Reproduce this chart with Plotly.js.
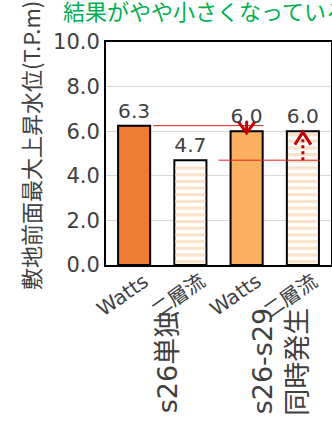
<!DOCTYPE html>
<html>
<head>
<meta charset="utf-8">
<script src="https://cdn.plot.ly/plotly-3.0.1.min.js"></script>
<style>
html,body{margin:0;padding:0;background:#fff;}
#chart{width:332px;height:421px;}
</style>
</head>
<body>
<div id="chart"></div>
<script>
// ---- data ----
var categories = ['Watts', '二層流', 'Watts', '二層流'];
var values = [6.25, 4.7, 6.0, 6.0];
var valueLabels = ['6.3', '4.7', '6.0', '6.0'];
var groups = ['s26単独', 's26-s29<br>同時発生'];
var groupCenters = [0.5, 2.5];
var barColors = ['#ED7D31', '#FFFFFF', '#FDB160', '#FFFFFF'];
var striped = [false, true, false, true];
var yTicks = [0, 2, 4, 6, 8, 10];
var yTickText = ['0.0', '2.0', '4.0', '6.0', '8.0', '10.0'];
var titleText = '結果がやや小さくなっている';
var yTitleText = '敷地前面最大上昇水位(T.P.m)';

var xIdx = categories.map(function (c, i) { return i; });
var numFont = 'DejaVu Sans, Noto Sans CJK JP, sans-serif';
var cjkFont = 'Noto Sans CJK JP, DejaVu Sans, sans-serif';
var gray = '#404040';
var red = '#E02020';
var dark = '#C00000';
var stripeColor = '#FCE2C8';
var halfBar = 0.285;

var trace = {
  type: 'bar',
  x: xIdx,
  y: values,
  width: 2 * halfBar,
  text: valueLabels,
  textposition: 'outside',
  textfont: {family: numFont, size: 21, color: gray},
  cliponaxis: false,
  marker: {color: barColors, line: {color: '#000000', width: 2}},
  hoverinfo: 'none'
};

var shapes = [];
// horizontal stripe fill for the 二層流 bars
var period = 0.3, thick = 0.14;
xIdx.forEach(function (xi, i) {
  if (!striped[i]) return;
  for (var y0 = 0.08; y0 + thick < values[i] - 0.05; y0 += period) {
    shapes.push({type: 'rect', xref: 'x', yref: 'y', x0: xi - halfBar + 0.02, x1: xi + halfBar - 0.02,
      y0: y0, y1: y0 + thick, fillcolor: stripeColor, line: {width: 0}, layer: 'above'});
  }
});

var ah = 0.142; // arrow half width in category units
shapes.push(
  {type: 'line', xref: 'x', yref: 'y', x0: xIdx[0] + 0.34, x1: xIdx[2] + 0.3, y0: values[0], y1: values[0], line: {color: red, width: 1}},
  {type: 'line', xref: 'x', yref: 'y', x0: xIdx[1] + 0.5, x1: xIdx[3] + 0.3, y0: values[1], y1: values[1], line: {color: red, width: 1}},
  {type: 'line', xref: 'x', yref: 'y', x0: xIdx[2], x1: xIdx[2], y0: values[0] + 0.18, y1: values[2] - 0.08, line: {color: dark, width: 3}},
  {type: 'path', xref: 'x', yref: 'y',
   path: 'M' + (xIdx[2] - ah) + ',' + (values[0] + 0.16) + ' L' + xIdx[2] + ',' + (values[2] - 0.08) + ' L' + (xIdx[2] + ah) + ',' + (values[0] + 0.16),
   line: {color: dark, width: 3}},
  {type: 'line', xref: 'x', yref: 'y', x0: xIdx[3], x1: xIdx[3], y0: values[1], y1: values[3] - 0.25, line: {color: dark, width: 3, dash: 'dot'}},
  {type: 'path', xref: 'x', yref: 'y',
   path: 'M' + (xIdx[3] - ah) + ',' + (values[3] - 0.6) + ' L' + xIdx[3] + ',' + (values[3] - 0.04) + ' L' + (xIdx[3] + ah) + ',' + (values[3] - 0.6),
   line: {color: dark, width: 3}}
);

var annotations = [
  {text: yTitleText, xref: 'paper', yref: 'paper', x: -0.338, y: 0.538, xanchor: 'center', yanchor: 'middle',
   textangle: -90, showarrow: false, font: {family: cjkFont, size: 22, color: gray}}
];
categories.forEach(function (c, i) {
  annotations.push({text: c, xref: 'x', yref: 'paper', x: xIdx[i], y: -0.01, xshift: 20,
    xanchor: 'right', yanchor: 'top', textangle: -35, showarrow: false, borderpad: 0,
    font: {family: numFont, size: 20, color: gray}});
});
groups.forEach(function (g, i) {
  annotations.push({text: g, xref: 'x', yref: 'paper', x: groupCenters[i], y: -0.435, xshift: 5,
    xanchor: 'center', yanchor: 'middle', textangle: -90, showarrow: false, align: 'right',
    font: {family: numFont, size: 27, color: gray}});
});

var layout = {
  width: 332, height: 421,
  margin: {l: 106, r: 1, t: 42, b: 156, pad: 0},
  paper_bgcolor: '#FFFFFF', plot_bgcolor: '#FFFFFF',
  showlegend: false,
  title: {text: titleText, x: 63 / 332, xanchor: 'left', xref: 'container', y: 1 - 12 / 421, yanchor: 'middle', yref: 'container',
          font: {family: cjkFont, size: 22, color: '#00B050'}},
  xaxis: {
    range: [-0.5, 3.5], tickmode: 'array', tickvals: xIdx, showticklabels: false,
    showline: true, linecolor: '#000000', linewidth: 2, mirror: true,
    showgrid: false, zeroline: false, ticks: '', fixedrange: true
  },
  yaxis: {
    range: [0, 10], tickmode: 'array', tickvals: yTicks, ticktext: yTickText,
    tickfont: {family: numFont, size: 21, color: gray},
    showline: true, linecolor: '#000000', linewidth: 2, mirror: true,
    showgrid: true, gridcolor: '#D9D9D9', gridwidth: 1, zeroline: false, ticks: '', fixedrange: true
  },
  shapes: shapes,
  annotations: annotations
};

Plotly.newPlot('chart', [trace], layout, {displayModeBar: false, staticPlot: true});
</script>
</body>
</html>
